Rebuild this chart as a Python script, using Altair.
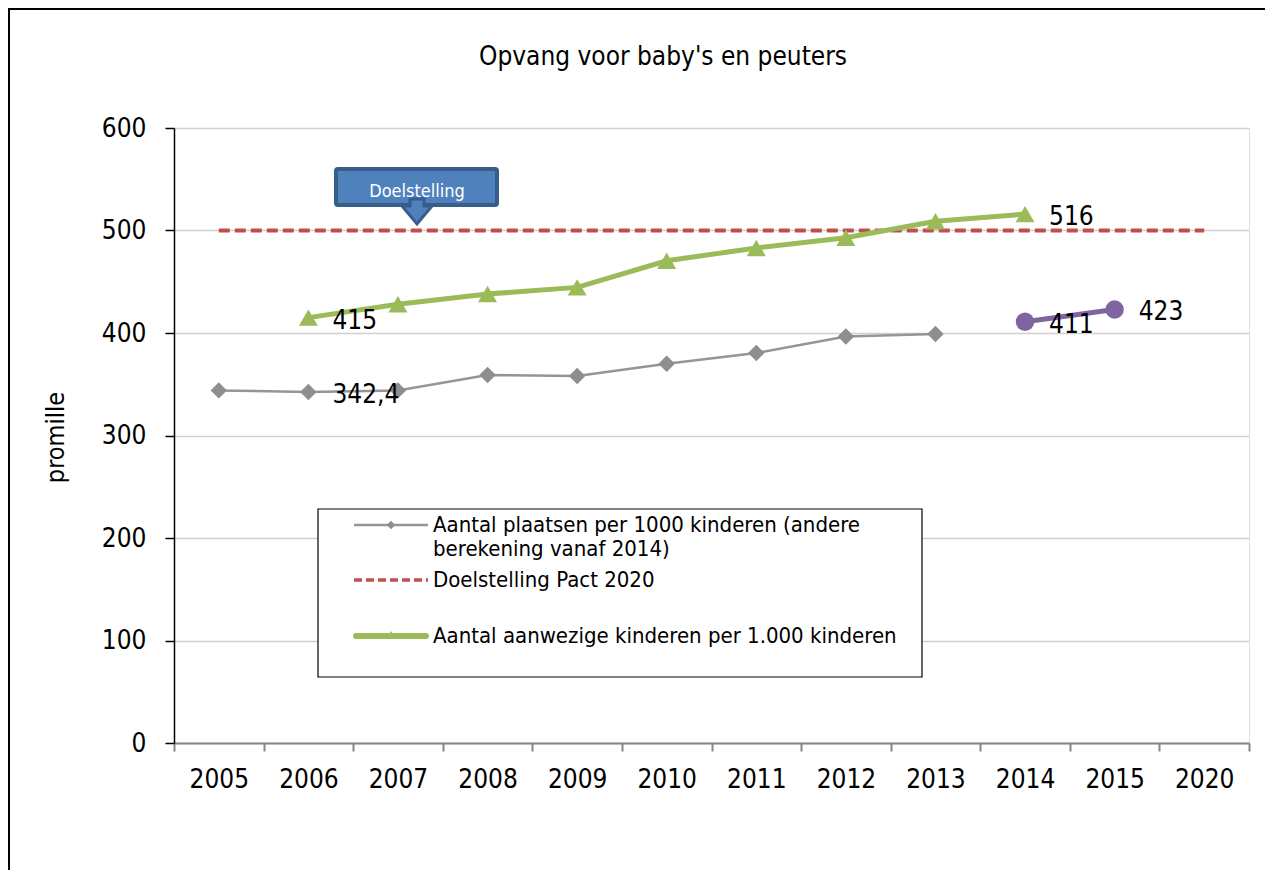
import altair as alt
import pandas as pd

FONT = "DejaVu Sans Condensed, Liberation Sans"

categories = ["2005", "2006", "2007", "2008", "2009", "2010", "2011",
              "2012", "2013", "2014", "2015", "2020"]

plaatsen_years = ["2005", "2006", "2007", "2008", "2009", "2010", "2011", "2012", "2013"]
plaatsen_values = [344, 342.4, 344, 359, 358, 370, 380.5, 396.5, 399]

aanwezig_years = ["2006", "2007", "2008", "2009", "2010", "2011", "2012", "2013", "2014"]
aanwezig_values = [415, 428, 438, 444.5, 470.5, 483, 493, 509, 516]

nieuw_years = ["2014", "2015"]
nieuw_values = [411, 423]

doel_years = categories
doel_values = [500] * len(categories)

label_years = ["2006", "2006", "2014", "2014", "2015"]
label_values = [342.4, 415, 516, 411, 423]
label_texts = ["342,4", "415", "516", "411", "423"]

title_text = "Opvang voor baby's en peuters"
y_title = "promille"
y_ticks = [0, 100, 200, 300, 400, 500, 600]
callout_text = "Doelstelling"
legend_lines = ["Aantal plaatsen per 1000 kinderen (andere",
                "berekening vanaf 2014)",
                "Doelstelling Pact 2020",
                "Aantal aanwezige kinderen per 1.000 kinderen"]

GRAY = "#959595"
GREEN = "#9BBB59"
RED = "#C0504D"
PURPLE = "#8064A2"

plaatsen = pd.DataFrame({"year": plaatsen_years, "value": plaatsen_values})
aanwezig = pd.DataFrame({"year": aanwezig_years, "value": aanwezig_values})
nieuw = pd.DataFrame({"year": nieuw_years, "value": nieuw_values})
doel = pd.DataFrame({"year": doel_years, "value": doel_values})
labels = pd.DataFrame({"year": label_years, "value": label_values, "txt": label_texts})
one = pd.DataFrame({"k": [0]})

X = alt.X("year:N", sort=categories, bandPosition=0.5,
          scale=alt.Scale(type="band", domain=categories, paddingInner=0, paddingOuter=0),
          axis=alt.Axis(title=None, tickBand="extent", grid=False,
                        labelFontSize=26, labelFont=FONT, labelColor="black",
                        labelPadding=15, labelAngle=0,
                        domainColor="#868686", domainWidth=2,
                        tickColor="#868686", tickSize=8, tickWidth=2))
Y = alt.Y("value:Q",
          scale=alt.Scale(domain=[0, 600], nice=False, zero=True),
          axis=alt.Axis(title=y_title, values=y_ticks, grid=True,
                        gridColor="#d0d0d0", gridWidth=1.5,
                        labelFontSize=26, labelFont=FONT, labelColor="black",
                        labelPadding=19,
                        domainColor="black", domainWidth=1.5,
                        tickColor="black", tickSize=9, tickWidth=1.5,
                        titleFont=FONT, titleFontSize=25, titleFontWeight="normal",
                        titleColor="black", titleAngle=270,
                        titleX=-119, titleY=309, titleAlign="center",
                        titleBaseline="middle"))

doel_line = alt.Chart(doel).mark_line(color=RED, strokeWidth=4,
                                      strokeDash=[11, 5]).encode(x=X, y=Y)
gray_line = alt.Chart(plaatsen).mark_line(color=GRAY, strokeWidth=2.5).encode(x=X, y=Y)
gray_pts = alt.Chart(plaatsen).mark_point(shape="diamond", filled=True, size=270,
                                          color="#8e8e8e", opacity=1).encode(x=X, y=Y)
green_line = alt.Chart(aanwezig).mark_line(color=GREEN, strokeWidth=5).encode(x=X, y=Y)
green_pts = alt.Chart(aanwezig).mark_point(shape="triangle-up", filled=True, size=360,
                                           color=GREEN, opacity=1).encode(x=X, y=Y)
purple_line = alt.Chart(nieuw).mark_line(color=PURPLE, strokeWidth=5).encode(x=X, y=Y)
purple_pts = alt.Chart(nieuw).mark_point(shape="circle", filled=True, size=340,
                                         color=PURPLE, opacity=1).encode(x=X, y=Y)
label_marks = alt.Chart(labels).mark_text(align="left", baseline="middle", dx=24, dy=3,
                                          font=FONT, fontSize=26, color="black").encode(
    x=X, y=Y, text="txt:N")

# outer frame of the chart area
frame = alt.Chart(one).mark_rect(fill=None, stroke="black", strokeWidth=2).encode(
    x=alt.value(-165), x2=alt.value(1200), y=alt.value(-119), y2=alt.value(900))

title = alt.Chart(one).mark_text(font=FONT, fontSize=26, color="black",
                                 align="center", baseline="middle").encode(
    x=alt.value(489), y=alt.value(-71), text=alt.value(title_text))

# callout "Doelstelling"
callout_box = alt.Chart(one).mark_rect(fill="#4F81BD", stroke="#385D8A", strokeWidth=4,
                                       cornerRadius=2).encode(
    x=alt.value(162), x2=alt.value(323), y=alt.value(41), y2=alt.value(77))
callout_arrow = alt.Chart(one).mark_point(
    shape="M-7,-7 L7,-7 L7,0 L15,0 L0,18 L-15,0 L-7,0 Z",
    filled=True, fill="#4F81BD", stroke="#385D8A", strokeWidth=3, size=4, opacity=1
).encode(x=alt.value(243), y=alt.value(78))
callout_label = alt.Chart(one).mark_text(font=FONT, fontSize=18, color="white",
                                         align="center", baseline="middle").encode(
    x=alt.value(243), y=alt.value(64), text=alt.value(callout_text))

# legend
lg_box = alt.Chart(one).mark_rect(fill="white", stroke="black", strokeWidth=1.2).encode(
    x=alt.value(144), x2=alt.value(748), y=alt.value(381), y2=alt.value(549))
lg_gray = alt.Chart(one).mark_rule(color=GRAY, strokeWidth=2.5).encode(
    x=alt.value(180), x2=alt.value(254), y=alt.value(397))
lg_gray_pt = alt.Chart(one).mark_point(shape="diamond", filled=True, size=70,
                                       color="#8e8e8e", opacity=1).encode(
    x=alt.value(217), y=alt.value(397))
lg_red = alt.Chart(one).mark_rule(color=RED, strokeWidth=3.5, strokeDash=[8, 4]).encode(
    x=alt.value(180), x2=alt.value(254), y=alt.value(452))
lg_green = alt.Chart(one).mark_rule(color=GREEN, strokeWidth=6, strokeCap="round").encode(
    x=alt.value(182), x2=alt.value(252), y=alt.value(508))
lg_green_pt = alt.Chart(one).mark_point(shape="triangle-up", filled=True, size=90,
                                        color=GREEN, opacity=1).encode(
    x=alt.value(217), y=alt.value(507))
lg_texts = []
for txt, yy in zip(legend_lines, [397, 421, 452, 508]):
    lg_texts.append(alt.Chart(one).mark_text(font=FONT, fontSize=22, color="black",
                                             align="left", baseline="middle").encode(
        x=alt.value(259), y=alt.value(yy), text=alt.value(txt)))

chart = alt.layer(
    doel_line, gray_line, gray_pts, green_line, green_pts, purple_line, purple_pts,
    label_marks, callout_box, callout_arrow, callout_label,
    lg_box, lg_gray, lg_gray_pt, lg_red, lg_green, lg_green_pt, *lg_texts,
    title, frame,
).properties(
    width=1075, height=615,
    autosize=alt.AutoSizeParams(type="none"),
    padding={"left": 166, "top": 120, "right": 16, "bottom": 127},
).configure_view(
    stroke="#c0c0c0", strokeWidth=2
).configure(background="white")

chart.save("out.html", embed_options={"renderer": "svg", "actions": False})
